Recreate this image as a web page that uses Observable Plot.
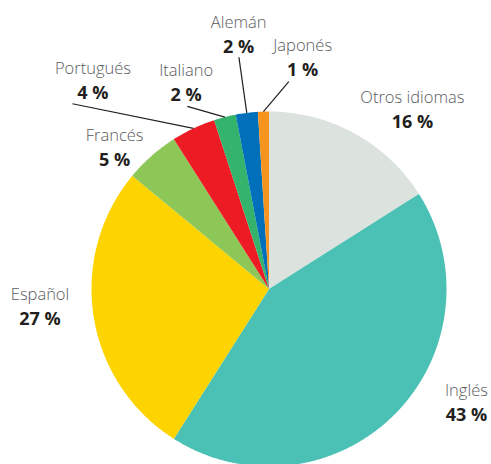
<!DOCTYPE html>
<html><head><meta charset="utf-8">
<script src="https://cdn.jsdelivr.net/npm/d3@7"></script>
<script src="https://cdn.jsdelivr.net/npm/@observablehq/plot@0.6"></script>
<style>body{margin:0;background:#fff}</style>
</head><body><div id="chart"></div>
<script>
// Data
const languages = ["Otros idiomas","Inglés","Español","Francés","Portugués","Italiano","Alemán","Japonés"];
const shares = [16,43,27,5,4,2,2,1];
const colors = ["#dce3de","#4bc0b5","#fed400","#8dc758","#ed1c24","#33b36b","#0070bb","#f7941d"];

// Label layout (polar: degrees clockwise from 12 o'clock, radius in pie radii)
const labelAngle  = [38.7,119.9,265.5,312.4,319.8,338.1,353.2,8.3];
const labelRadius = [1.292,1.283,1.294,1.178,1.537,1.251,1.441,1.315];
const leaderAngle  = [null,null,null,null,313.3,335.9,352.6,5.45];
const leaderRadius = [null,null,null,null,1.522,1.127,1.317,1.174];

const W = 491, H = 464;
const R = 177.5, CX = 268.5, CY = 288.5;

const rows = languages.map((name, i) => ({name, share: shares[i], color: colors[i], i}));
const arcs = d3.pie().sort(null).value(d => d.share)(rows);
const rad = a => a * Math.PI / 180;
const polar = (a, r) => [r * Math.sin(a), r * Math.cos(a)];

const wedges = arcs.map(a => {
  const pts = [[0, 0]];
  const n = Math.max(4, Math.ceil((a.endAngle - a.startAngle) / rad(0.5)));
  for (let k = 0; k <= n; k++) pts.push(polar(a.startAngle + (a.endAngle - a.startAngle) * k / n, 1));
  pts.push([0, 0]);
  return {type: "Feature", properties: {name: a.data.name, color: a.data.color}, geometry: {type: "Polygon", coordinates: [pts]}};
});

const labels = arcs.map(a => {
  const i = a.data.i;
  const [x, y] = polar(rad(labelAngle[i]), labelRadius[i]);
  return {x, y, name: a.data.name, pct: `${a.data.share} %`};
});

const leaders = arcs.filter(a => leaderAngle[a.data.i] != null).map(a => {
  const i = a.data.i;
  const mid = (a.startAngle + a.endAngle) / 2;
  const [x1, y1] = polar(rad(leaderAngle[i]), leaderRadius[i]);
  const [x2, y2] = polar(mid, 1);
  return {x1, y1, x2, y2};
});

const domain = {type: "MultiPoint", coordinates: [[-CX / R, -(H - CY) / R], [(W - CX) / R, CY / R]]};

const font = "'Open Sans', 'Noto Sans', sans-serif";
const chart = Plot.plot({
  width: W, height: H,
  margin: 0,
  style: {background: "#fff", fontFamily: font},
  projection: {type: "reflect-y", domain, inset: 0},
  marks: [
    Plot.geo(wedges, {fill: d => d.properties.color, stroke: "none"}),
    Plot.link(leaders, {x1: "x1", y1: "y1", x2: "x2", y2: "y2", stroke: "#231f20", strokeWidth: 1.2}),
    Plot.text(labels, {x: "x", y: "y", text: "name", dy: -12, fontSize: 16.5, fill: "#5a5b5d", fontWeight: 300, textAnchor: "middle", lineAnchor: "middle", fontFamily: font}),
    Plot.text(labels, {x: "x", y: "y", text: "pct", dy: 12.5, fontSize: 18, fill: "#231f20", fontWeight: 700, textAnchor: "middle", lineAnchor: "middle", fontFamily: font})
  ]
});
document.getElementById("chart").append(chart);
</script>
</body></html>
